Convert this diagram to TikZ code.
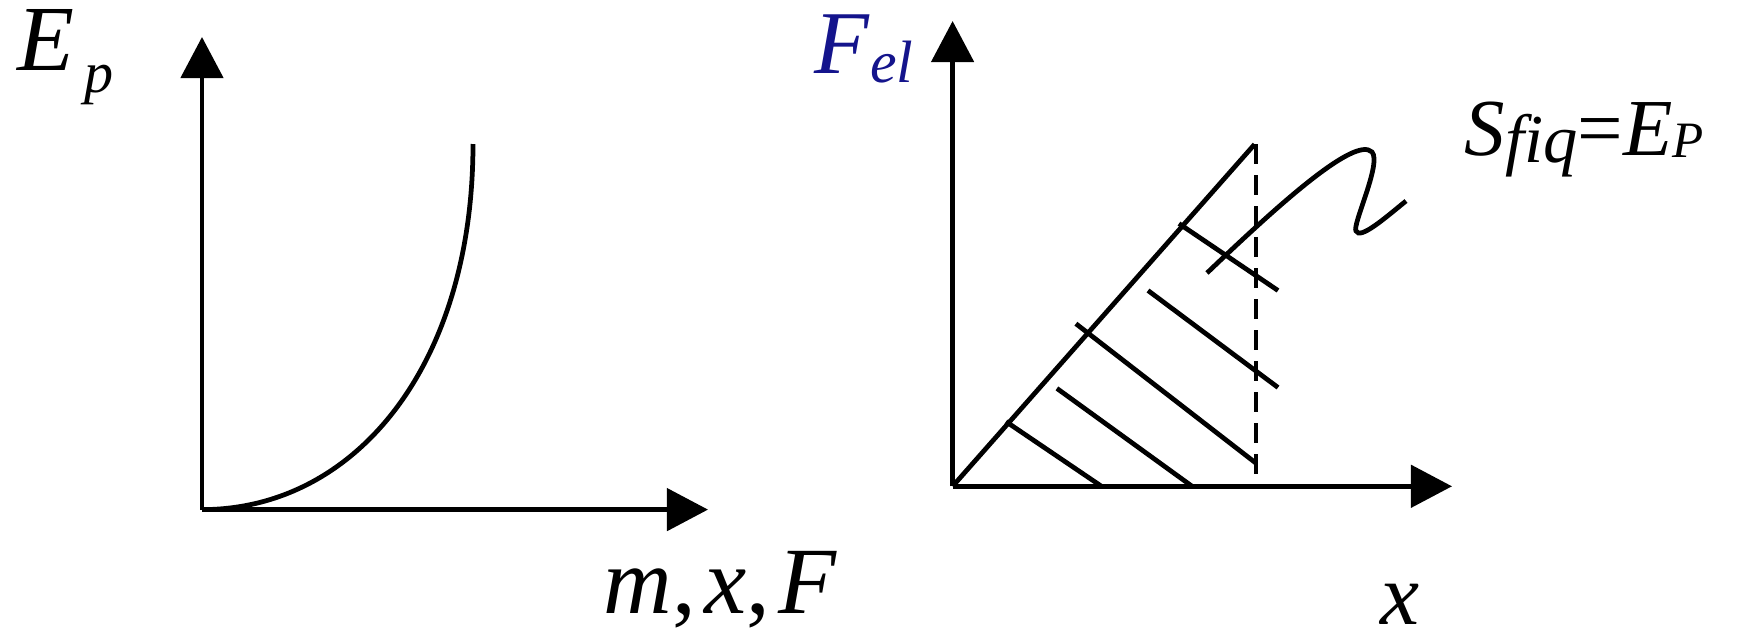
\documentclass[tikz,border=0pt]{standalone}
\usepackage{fontspec}
\setmainfont{Liberation Serif}[ItalicFont={Liberation Serif Italic}]
\usetikzlibrary{arrows.meta}
\definecolor{navy}{RGB}{20,20,140}
\tikzset{
  axis/.style={line width=1.35pt,-{Triangle[length=0.41cm,width=0.42cm]}},
  plotline/.style={line width=1.35pt},
  lbl/.style={inner sep=0pt,anchor=base west},
}
\newcommand{\fs}[1]{\fontsize{#1}{#1}\selectfont}
\begin{document}
\begin{tikzpicture}[x=0.01cm,y=-0.01cm]
\useasboundingbox (0,0) rectangle (1741,639);
% ---------- left plot ----------
\coordinate (O1) at (202,509.6);
\coordinate (Y1) at (202,37);
\coordinate (X1) at (708,509.6);
\coordinate (C1) at (473,144);
\draw[axis] (O1) -- (Y1);
\draw[axis] (O1) -- (X1);
\draw[plotline] (O1) .. controls (355,509.6) and (473,366) .. (C1);
\node[lbl] (Ep) at (17,70) {\fs{26.5pt}\textit{E}\hspace{0.1cm}\raisebox{-0.22cm}{\fs{16.5pt}\textit{p}}};
\node[lbl] (mxF) at (603,613) {\fs{27pt}\textit{m},\hspace{0.085cm}\textit{x},\hspace{0.085cm}\textit{F}};
% ---------- right plot ----------
\coordinate (O2) at (952.6,486.3);
\coordinate (Y2) at (952.6,21);
\coordinate (X2) at (1452,486.3);
\coordinate (T) at (1254.6,144.3);
\coordinate (D1) at (1256,144.3);
\coordinate (D2) at (1256,486.3);
\draw[axis] (O2) -- (Y2);
\draw[axis] (O2) -- (X2);
\draw[plotline] (O2) -- (T);
\draw[plotline,dash pattern=on 0.2cm off 0.11cm] (D1) -- (D2);
% hatching
\coordinate (a1) at (1006,421.6);  \coordinate (a2) at (1101.5,486.3);
\coordinate (b1) at (1056.9,388.4); \coordinate (b2) at (1192.1,486.3);
\coordinate (c1) at (1075.9,323.7); \coordinate (c2) at (1256,463.2);
\coordinate (d1) at (1148,290.5);  \coordinate (d2) at (1278,387.5);
\coordinate (e1) at (1179,223.6);  \coordinate (e2) at (1278,290.5);
\draw[plotline] (a1) -- (a2);
\draw[plotline] (b1) -- (b2);
\draw[plotline] (c1) -- (c2);
\draw[plotline] (d1) -- (d2);
\draw[plotline] (e1) -- (e2);
% wavy pointer
\coordinate (w0) at (1207,273);
\coordinate (w1) at (1372,152);
\coordinate (w2) at (1356,231);
\coordinate (w3) at (1406,201);
\draw[plotline] (w0) .. controls (1275,208) and (1355,135) .. (w1)
  .. controls (1382,163) and (1352,225) .. (w2)
  .. controls (1360,240) and (1385,218) .. (w3);
\node[lbl,text=navy] (Fel) at (814,73) {\fs{25.5pt}\textit{F}\raisebox{-0.09cm}{\fs{17pt}\textit{el}}};
\node[lbl] (S) at (1464,155) {\fs{23pt}\textit{S}\raisebox{-0.07cm}{\fs{19.5pt}\textit{fiq}}=\textit{E}\raisebox{-0.02cm}{\fs{14.5pt}\textit{P}}};
\node[lbl] (xl) at (1380,624) {\fs{25pt}\textit{x}};
\end{tikzpicture}
\end{document}
